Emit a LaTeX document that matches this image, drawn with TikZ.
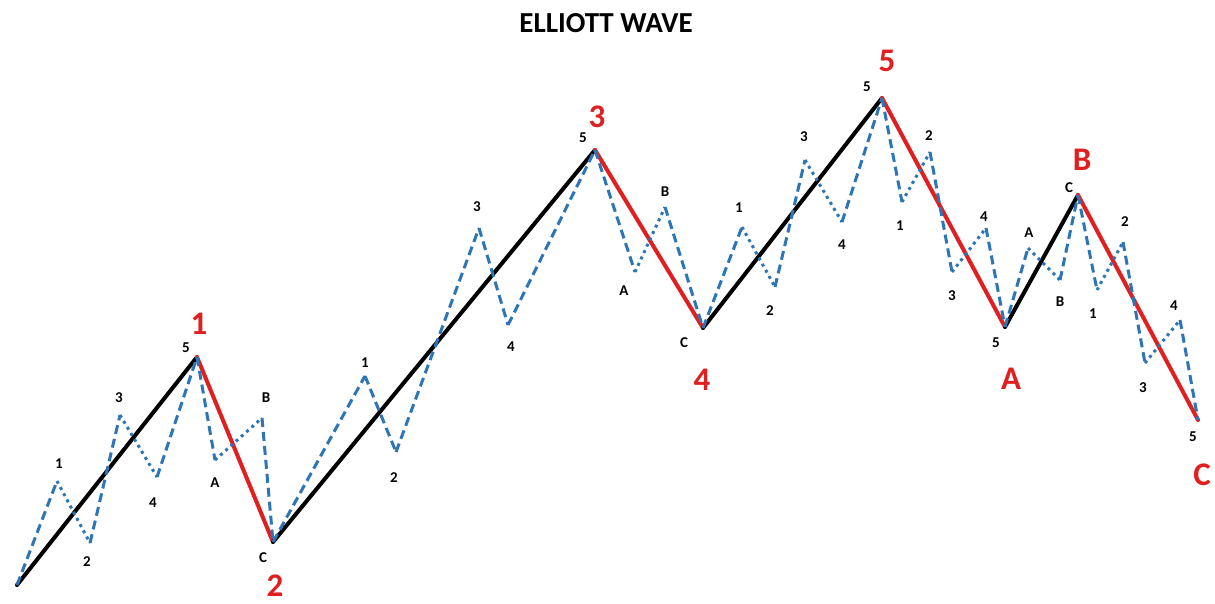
\documentclass[tikz,border=0pt]{standalone}
\usepackage{fontspec}
\setmainfont{Carlito}
\definecolor{wblue}{RGB}{46,117,182}
\definecolor{wred}{RGB}{224,32,32}
\begin{document}
\begin{tikzpicture}[x=1pt,y=-1pt,
  mainup/.style={line width=4pt, black, line cap=round, line join=round},
  maindown/.style={line width=4pt, wred, line cap=round, line join=round},
  subdash/.style={line width=3pt, wblue, dash pattern=on 9pt off 5pt},
  subdot/.style={line width=3pt, wblue, dash pattern=on 3pt off 4pt},
  sl/.style={font=\fontsize{15}{15}\selectfont\bfseries, text=black, inner sep=0pt},
  bl/.style={font=\fontsize{33}{33}\selectfont\bfseries, text=wred, inner sep=0pt}]
\useasboundingbox (0,0) rectangle (1215,603);
\fill[white] (0,0) rectangle (1215,603);
% main points
\coordinate (P0) at (17,585);
\coordinate (P1) at (197,357);
\coordinate (P2) at (273,542);
\coordinate (P3) at (595,150);
\coordinate (P4) at (703,328);
\coordinate (P5) at (882,98);
\coordinate (PA) at (1005,327);
\coordinate (PB) at (1078,195);
\coordinate (PC) at (1198,420);
% sub points
\coordinate (a1) at (57,481);  \coordinate (a2) at (90,543);
\coordinate (a3) at (120,415); \coordinate (a4) at (157,477);
\coordinate (b1) at (215,460); \coordinate (b2) at (262,418);
\coordinate (c1) at (365,376); \coordinate (c2) at (396,452);
\coordinate (c3) at (479,228); \coordinate (c4) at (508,325);
\coordinate (d1) at (635,272); \coordinate (d2) at (665,207);
\coordinate (e1) at (742,227); \coordinate (e2) at (775,287);
\coordinate (e3) at (805,160); \coordinate (e4) at (842,222);
\coordinate (f1) at (902,202); \coordinate (f2) at (930,152);
\coordinate (f3) at (952,272); \coordinate (f4) at (986,228);
\coordinate (g1) at (1028,248); \coordinate (g2) at (1060,280);
\coordinate (h1) at (1097,290); \coordinate (h2) at (1123,242);
\coordinate (h3) at (1145,363); \coordinate (h4) at (1180,320);
% main waves
\draw[mainup] (P0) -- (P1);
\draw[maindown] (P1) -- (P2);
\draw[mainup] (P2) -- (P3);
\draw[maindown] (P3) -- (P4);
\draw[mainup] (P4) -- (P5);
\draw[maindown] (P5) -- (PA);
\draw[mainup] (PA) -- (PB);
\draw[maindown] (PB) -- (PC);
% sub waves
\draw[subdash] (P0) -- (a1); \draw[subdot] (a1) -- (a2); \draw[subdash] (a2) -- (a3);
\draw[subdot] (a3) -- (a4); \draw[subdash] (a4) -- (P1);
\draw[subdash] (P1) -- (b1); \draw[subdot] (b1) -- (b2); \draw[subdash] (b2) -- (P2);
\draw[subdash] (P2) -- (c1); \draw[subdash] (c1) -- (c2); \draw[subdash] (c2) -- (c3);
\draw[subdash] (c3) -- (c4); \draw[subdash] (c4) -- (P3);
\draw[subdash] (P3) -- (d1); \draw[subdot] (d1) -- (d2); \draw[subdash] (d2) -- (P4);
\draw[subdash] (P4) -- (e1); \draw[subdot] (e1) -- (e2); \draw[subdash] (e2) -- (e3);
\draw[subdot] (e3) -- (e4); \draw[subdash] (e4) -- (P5);
\draw[subdash] (P5) -- (f1); \draw[subdot] (f1) -- (f2); \draw[subdash] (f2) -- (f3);
\draw[subdot] (f3) -- (f4); \draw[subdash] (f4) -- (PA);
\draw[subdash] (PA) -- (g1); \draw[subdot] (g1) -- (g2); \draw[subdash] (g2) -- (PB);
\draw[subdash] (PB) -- (h1); \draw[subdot] (h1) -- (h2); \draw[subdash] (h2) -- (h3);
\draw[subdot] (h3) -- (h4); \draw[subdash] (h4) -- (PC);
% title
\node[font=\fontsize{29}{29}\selectfont\bfseries, inner sep=0pt] (title) at (606,23) {ELLIOTT WAVE};
% big labels
\node[bl] (L1) at (199,324) {1};
\node[bl] (L2) at (275,586) {2};
\node[bl] (L3) at (597,117) {3};
\node[bl] (L4) at (702,380) {4};
\node[bl] (L5) at (887,61) {5};
\node[bl] (LA) at (1011,379) {A};
\node[bl] (LB) at (1082,160) {B};
\node[bl] (LC) at (1202,475) {C};
% small labels wave 1
\node[sl] (s11) at (59,464) {1};
\node[sl] (s12) at (87,562) {2};
\node[sl] (s13) at (119,398) {3};
\node[sl] (s14) at (153,503) {4};
\node[sl] (s15) at (186,348) {5};
% wave 2
\node[sl] (s2A) at (215,483) {A};
\node[sl] (s2B) at (266,398) {B};
\node[sl] (s2C) at (263,558) {C};
% wave 3
\node[sl] (s31) at (365,363) {1};
\node[sl] (s32) at (394,478) {2};
\node[sl] (s33) at (477,207) {3};
\node[sl] (s34) at (511,347) {4};
\node[sl] (s35) at (583,138) {5};
% wave 4
\node[sl] (s4A) at (624,291) {A};
\node[sl] (s4B) at (665,192) {B};
\node[sl] (s4C) at (684,343) {C};
% wave 5
\node[sl] (s51) at (739,208) {1};
\node[sl] (s52) at (770,311) {2};
\node[sl] (s53) at (804,137) {3};
\node[sl] (s54) at (842,245) {4};
\node[sl] (s55) at (867,87) {5};
% wave A
\node[sl] (sA1) at (900,226) {1};
\node[sl] (sA2) at (929,136) {2};
\node[sl] (sA3) at (952,296) {3};
\node[sl] (sA4) at (984,217) {4};
\node[sl] (sA5) at (996,343) {5};
% wave B
\node[sl] (sBA) at (1029,233) {A};
\node[sl] (sBB) at (1060,302) {B};
\node[sl] (sBC) at (1069,188) {C};
% wave C
\node[sl] (sC1) at (1093,314) {1};
\node[sl] (sC2) at (1125,222) {2};
\node[sl] (sC3) at (1143,388) {3};
\node[sl] (sC4) at (1174,306) {4};
\node[sl] (sC5) at (1193,437) {5};
\end{tikzpicture}
\end{document}
